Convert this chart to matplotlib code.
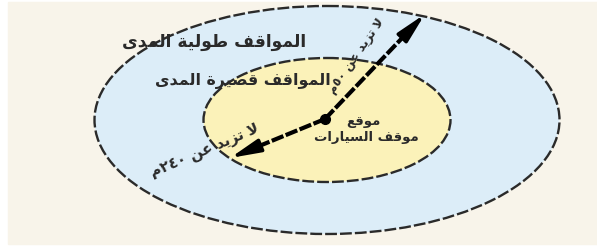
"""
Parking zones diagram: short-term and long-term parking around the car park site
"""

import numpy as np
import matplotlib
matplotlib.use('Agg')
import matplotlib.pyplot as plt
from matplotlib.patches import Ellipse, Rectangle

# Labels (logical Arabic order)
ZONE_LABELS = ['المواقف طولية المدى', 'المواقف قصيرة المدى']
SITE_LABELS = ['موقع', 'موقف السيارات']
DISTANCE_LABELS = ['لا تزيد عن ٥٠م', 'لا تزيد عن ٢٤٠م']

# Zone colours
ZONE_COLORS = ['#dcedf8', '#fbf2b9']
BG_COLOR = '#f8f4ea'
INK = '#2a2a2a'

# ------------------------------------------------------------------
# Minimal Arabic shaping + visual ordering (matplotlib has no shaper)
# (isolated, final, initial, medial) ; None => letter does not join forward
FORMS = {
    '\u0627': ('\uFE8D', '\uFE8E', None, None),
    '\u0628': ('\uFE8F', '\uFE90', '\uFE91', '\uFE92'),
    '\u0629': ('\uFE93', '\uFE94', None, None),
    '\u062A': ('\uFE95', '\uFE96', '\uFE97', '\uFE98'),
    '\u062F': ('\uFEA9', '\uFEAA', None, None),
    '\u0631': ('\uFEAD', '\uFEAE', None, None),
    '\u0632': ('\uFEAF', '\uFEB0', None, None),
    '\u0633': ('\uFEB1', '\uFEB2', '\uFEB3', '\uFEB4'),
    '\u0635': ('\uFEB9', '\uFEBA', '\uFEBB', '\uFEBC'),
    '\u0637': ('\uFEC1', '\uFEC2', '\uFEC3', '\uFEC4'),
    '\u0639': ('\uFEC9', '\uFECA', '\uFECB', '\uFECC'),
    '\u0641': ('\uFED1', '\uFED2', '\uFED3', '\uFED4'),
    '\u0642': ('\uFED5', '\uFED6', '\uFED7', '\uFED8'),
    '\u0644': ('\uFEDD', '\uFEDE', '\uFEDF', '\uFEE0'),
    '\u0645': ('\uFEE1', '\uFEE2', '\uFEE3', '\uFEE4'),
    '\u0646': ('\uFEE5', '\uFEE6', '\uFEE7', '\uFEE8'),
    '\u0648': ('\uFEED', '\uFEEE', None, None),
    '\u0649': ('\uFEEF', '\uFEF0', None, None),
    '\u064A': ('\uFEF1', '\uFEF2', '\uFEF3', '\uFEF4'),
}
LAM_ALEF = ('\uFEFB', '\uFEFC')


def joins_forward(ch):
    return ch in FORMS and FORMS[ch][2] is not None


def shape(text):
    out = []
    i = 0
    n = len(text)
    while i < n:
        ch = text[i]
        if ch not in FORMS:
            out.append(ch)
            i += 1
            continue
        prev_joins = i > 0 and joins_forward(text[i - 1])
        if ch == '\u0644' and i + 1 < n and text[i + 1] == '\u0627':
            out.append(LAM_ALEF[1] if prev_joins else LAM_ALEF[0])
            i += 2
            continue
        nxt = text[i + 1] if i + 1 < n else ''
        next_joins = joins_forward(ch) and nxt in FORMS
        iso, fin, ini, med = FORMS[ch]
        if prev_joins and next_joins:
            out.append(med)
        elif prev_joins:
            out.append(fin)
        elif next_joins:
            out.append(ini)
        else:
            out.append(iso)
        i += 1
    # visual order: reverse, but keep digit runs left-to-right
    tokens = []
    for ch in out:
        if ch.isdigit() and tokens and tokens[-1][0].isdigit():
            tokens[-1] += ch
        else:
            tokens.append(ch)
    return ''.join(reversed(tokens))


# ------------------------------------------------------------------
W, H = 597, 248
fig = plt.figure(figsize=(W / 100, H / 100), dpi=100, facecolor='white')
ax = fig.add_axes([0, 0, 1, 1])
ax.set_xlim(0, W)
ax.set_ylim(H, 0)
ax.axis('off')

ax.add_patch(Rectangle((8, 2), W - 8, H - 6, color=BG_COLOR, zorder=0))

center = np.array([327.0, 120.0])
outer = Ellipse(center, 465, 228, facecolor=ZONE_COLORS[0], edgecolor=INK,
                lw=1.7, linestyle=(0, (5, 1.3)), zorder=1)
inner = Ellipse(center, 247, 124, facecolor=ZONE_COLORS[1], edgecolor=INK,
                lw=1.7, linestyle=(0, (5, 1.3)), zorder=2)
ax.add_patch(outer)
ax.add_patch(inner)

# Arrows from the site to the edge of each zone
site = np.array([325.0, 119.0])
tips = [np.array([425.0, 14.0]), np.array([230.0, 158.0])]
head_len = 26
for tip in tips:
    u = (tip - site) / np.linalg.norm(tip - site)
    back = tip - u * head_len
    ax.plot([site[0], back[0] + u[0] * 4], [site[1], back[1] + u[1] * 4],
            color='black', lw=3, linestyle=(0, (3, 0.6)),
            solid_capstyle='butt', zorder=4)
    ax.annotate('', xy=tip, xytext=back,
                arrowprops=dict(arrowstyle='-|>,head_length=1.0,head_width=0.22',
                                color='black', lw=2.5, shrinkA=0, shrinkB=0,
                                mutation_scale=18),
                zorder=5)
ax.plot(site[0], site[1], 'o', color='black', markersize=7, zorder=6)

txt = dict(color=INK, ha='center', va='center', family='DejaVu Sans',
           fontweight='bold', zorder=7)

ax.text(214, 42, shape(ZONE_LABELS[0]), fontsize=12.3, **txt)
ax.text(243, 81, shape(ZONE_LABELS[1]), fontsize=11.4, **txt)
ax.text(363, 122, shape(SITE_LABELS[0]), fontsize=9.5, **txt)
ax.text(366, 138, shape(SITE_LABELS[1]), fontsize=9.5, **txt)

ax.text(356, 56, shape(DISTANCE_LABELS[0]), fontsize=8.8, rotation=55,
        rotation_mode='anchor', **txt)
ax.text(205, 150, shape(DISTANCE_LABELS[1]), fontsize=10.6, rotation=23,
        rotation_mode='anchor', **txt)

plt.savefig('out.png', dpi=100, facecolor=fig.get_facecolor())
